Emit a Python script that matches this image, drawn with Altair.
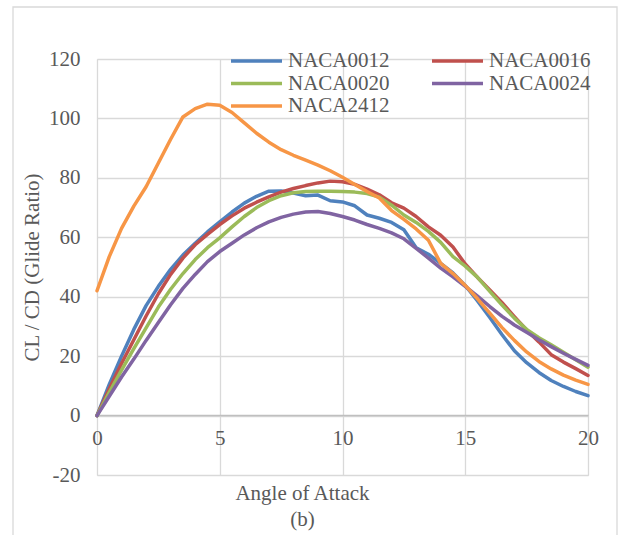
import altair as alt
import pandas as pd

angles = [0, 0.5, 1, 1.5, 2, 2.5, 3, 3.5, 4, 4.5, 5, 5.5, 6, 6.5, 7, 7.5, 8, 8.5, 9, 9.5,
          10, 10.5, 11, 11.5, 12, 12.5, 13, 13.5, 14, 14.5, 15, 15.5, 16, 16.5, 17, 17.5,
          18, 18.5, 19, 19.5, 20]

naca0012 = [0, 10.5, 20, 29, 37, 43.5, 49.2, 54, 58, 61.8, 65.2, 68.5, 71.5, 73.8, 75.5, 75.6,
            74.9, 74, 74.2, 72.3, 71.9, 70.6, 67.5, 66.4, 65, 62.5, 56.5, 54.3, 51.2, 48, 43.8,
            38.6, 33, 27.2, 21.8, 17.8, 14.5, 11.8, 9.8, 8.1, 6.7]
naca0016 = [0, 9, 17.5, 25.5, 33.5, 41, 47.5, 53, 57.5, 61, 64.3, 67.2, 69.8, 71.8, 73.6, 75.2,
            76.4, 77.4, 78.3, 78.9, 78.7, 77.8, 76.2, 74.3, 71.6, 69.8, 67, 63.5, 60.7, 56.7, 51,
            46.5, 42.3, 38, 33.3, 28.8, 24.8, 20.5, 18, 15.8, 13.5]
naca0020 = [0, 7.8, 15.3, 22.5, 29.5, 36.5, 42.5, 47.8, 52.5, 56.5, 59.8, 63.5, 67, 70, 72.3, 74,
            75, 75.4, 75.5, 75.5, 75.4, 75.2, 74.7, 73.5, 70.8, 67.5, 65, 62, 58.3, 53.5, 50.3,
            46.5, 41.8, 37.2, 32.8, 29, 26.2, 23.8, 21.3, 18.8, 16.3]
naca0024 = [0, 6.5, 13, 19, 25.3, 31.3, 37.3, 42.8, 47.5, 51.8, 55.2, 58, 60.8, 63.2, 65.2, 66.7,
            67.8, 68.5, 68.7, 68, 67, 65.8, 64.3, 63, 61.5, 59.5, 56.3, 53, 49.6, 46.7, 43.5,
            40.2, 36.7, 33.4, 30.5, 28, 25.5, 23.2, 21, 18.9, 16.9]
naca2412 = [42, 53.5, 63, 70.5, 77, 85, 93, 100.5, 103.3, 104.8, 104.4, 102, 98.5, 95, 92, 89.5,
            87.6, 86, 84.3, 82.4, 80.2, 77.8, 75.4, 73.2, 69, 66, 62.8, 59, 51.2, 47.8, 43.8,
            39.3, 34.5, 29.6, 25.3, 21.4, 18.2, 15.7, 13.6, 11.9, 10.5]

series_names = ["NACA0012", "NACA0016", "NACA0020", "NACA0024", "NACA2412"]
series_values = [naca0012, naca0016, naca0020, naca0024, naca2412]
series_colors = ["#4F81BD", "#C0504D", "#9BBB59", "#8064A2", "#F79646"]

x_ticks = [0, 5, 10, 15, 20]
y_ticks = [-20, 0, 20, 40, 60, 80, 100, 120]

rows = []
for i, (name, vals) in enumerate(zip(series_names, series_values)):
    for a, v in zip(angles, vals):
        rows.append({"angle": a, "ratio": v, "series": name, "order": i})
df = pd.DataFrame(rows)

FONT = "Liberation Serif"
GRAY = "#595959"
GRID = "#d9d9d9"

lines = alt.Chart(df).mark_line(strokeWidth=3.5, strokeCap="round", strokeJoin="round").encode(
    x=alt.X("angle:Q",
            scale=alt.Scale(domain=[0, 20], nice=False, zero=False),
            axis=alt.Axis(values=x_ticks, grid=True, gridColor=GRID, gridWidth=1.3,
                          ticks=False, domain=True, domainColor="#bfbfbf", domainWidth=1.3,
                          offset=-60, labelPadding=12, labelFlush=False,
                          labelExpr="toString(datum.value)",
                          labelFont=FONT, labelFontSize=21, labelColor=GRAY,
                          title=["Angle of Attack", "(b)"], titleFont=FONT, titleFontSize=21,
                          titleFontWeight="normal", titleColor=GRAY, titleLineHeight=26,
                          titleX=205, titleY=67, titleBaseline="top", titleAlign="center",
                          titleAnchor="start")),
    y=alt.Y("ratio:Q",
            scale=alt.Scale(domain=[-20, 120], nice=False),
            axis=alt.Axis(values=y_ticks, grid=True, gridColor=GRID, gridWidth=1.3,
                          ticks=False, domain=False, labelPadding=17,
                          labelExpr="toString(datum.value)",
                          labelFont=FONT, labelFontSize=21, labelColor=GRAY,
                          title="CL / CD (Glide Ratio)", titleFont=FONT, titleFontSize=21,
                          titleFontWeight="normal", titleColor=GRAY, titlePadding=6)),
    color=alt.Color("series:N",
                    scale=alt.Scale(domain=series_names, range=series_colors),
                    legend=alt.Legend(orient="none", legendX=132, legendY=-9, columns=2,
                                      direction="horizontal",
                                      title=None, symbolType="stroke", symbolSize=2600,
                                      symbolStrokeWidth=3.5, clipHeight=22, rowPadding=0.5,
                                      columnPadding=40, labelOffset=4, padding=0,
                                      labelFont=FONT, labelFontSize=21, labelColor=GRAY)),
    order=alt.Order("order:Q"),
)

frame = alt.Chart(pd.DataFrame({"k": [0]})).mark_rect(
    fill=None, stroke=GRID, strokeWidth=1.3
).encode(
    x=alt.value(-84), x2=alt.value(520), y=alt.value(-52), y2=alt.value(520)
)

chart = alt.layer(frame, lines).properties(
    width=491, height=416,
    autosize=alt.AutoSizeParams(type="none"),
    padding={"left": 97, "top": 59, "right": 33, "bottom": 60},
).configure_view(stroke=None).configure(background="white")

chart.save("out.html", embed_options={"renderer": "svg", "actions": False})
